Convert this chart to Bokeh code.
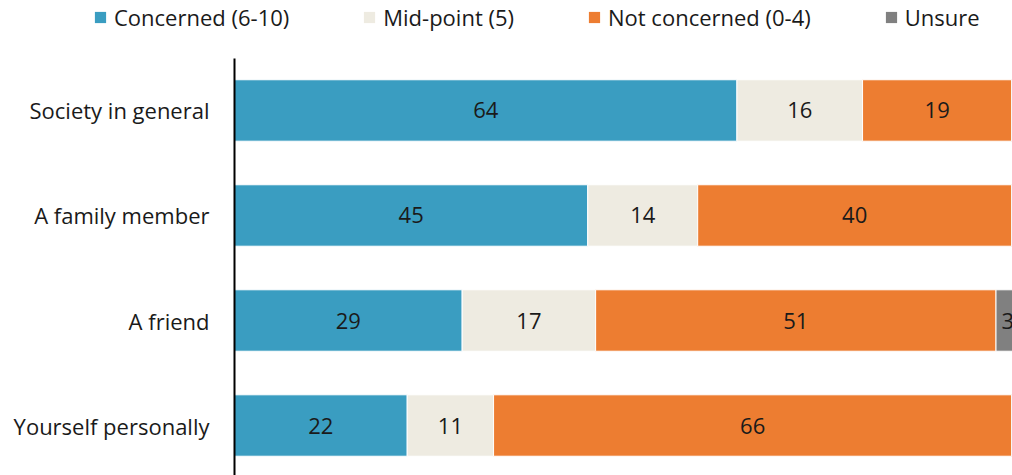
from bokeh.plotting import figure
from bokeh.models import ColumnDataSource, Legend, LegendItem, FixedTicker, Range1d
from bokeh.layouts import column
from bokeh.embed import file_html
from bokeh.resources import INLINE
from bokeh.core.properties import value

categories = ["Society in general", "A family member", "A friend", "Yourself personally"]
series = ["Concerned (6-10)", "Mid-point (5)", "Not concerned (0-4)", "Unsure"]
concerned = [64, 45, 29, 22]
midpoint = [16, 14, 17, 11]
not_concerned = [19, 40, 51, 66]
unsure = [1, 1, 3, 1]
colors = ["#3A9DC1", "#EEEBE1", "#ED7D31", "#808080"]

FONT = "Open Sans"
FS = "22px"
ypos = [3, 2, 1, 0]

# legend strip
pl = figure(width=1012, height=58, output_backend="svg", toolbar_location=None,
            x_range=Range1d(0, 1), y_range=Range1d(0, 1),
            x_axis_location=None, y_axis_location=None,
            min_border_left=0, min_border_right=0, min_border_bottom=0, min_border_top=0)
pl.frame_align = False
pl.grid.visible = False
pl.outline_line_color = None
leg_items = []
for s, c in zip(series, colors):
    # legend swatches only; placed outside the visible range
    r = pl.rect(x=[-5], y=[-5], width=[0.1], height=[0.1], fill_color=c, line_color=None)
    leg_items.append(LegendItem(label=s, renderers=[r]))
legend = Legend(items=leg_items, orientation="horizontal", location=(93, 26),
                glyph_width=14, glyph_height=14, label_standoff=7, spacing=73,
                label_text_font=FONT, label_text_font_size=FS,
                label_text_color="#1a1a1a", border_line_color=None,
                background_fill_alpha=0, padding=0, margin=0)
pl.add_layout(legend)

p = figure(width=1012, height=417, output_backend="svg", toolbar_location=None,
           x_range=Range1d(0, 99.1), y_range=Range1d(-0.476, 3.495),
           min_border_left=234, min_border_right=0, min_border_bottom=0, min_border_top=0)
p.frame_align = False

vals = [concerned, midpoint, not_concerned, unsure]
left = [0.0] * 4
lx, ly, lt = [], [], []
for s, v, c in zip(series, vals, colors):
    right = [a + b for a, b in zip(left, v)]
    src = ColumnDataSource(dict(y=ypos, left=left, right=right))
    p.hbar(y="y", left="left", right="right", height=0.585, source=src,
           fill_color=c, line_color="white", line_width=1)
    for yy, l, rr, val in zip(ypos, left, right, v):
        if val >= 2:
            lx.append((l + rr) / 2)
            ly.append(yy)
            lt.append(str(val))
    left = right

p.text(x=lx, y=ly, text=lt, text_align="center", text_baseline="middle",
       text_font=value(FONT), text_font_size=FS, text_color="#1a1a1a")

p.xaxis.visible = False
p.xgrid.visible = False
p.ygrid.visible = False
p.outline_line_color = None
p.yaxis.ticker = FixedTicker(ticks=ypos)
p.yaxis.major_label_overrides = {y: c for y, c in zip(ypos, categories)}
p.yaxis.major_tick_line_color = None
p.yaxis.minor_tick_line_color = None
p.yaxis.axis_line_color = "#000000"
p.yaxis.axis_line_width = 2
p.yaxis.major_label_text_font = FONT
p.yaxis.major_label_text_font_size = FS
p.yaxis.major_label_text_color = "#1a1a1a"
p.yaxis.major_label_standoff = 19

layout = column(pl, p, spacing=0)
open("out.html", "w").write(file_html(layout, INLINE))
